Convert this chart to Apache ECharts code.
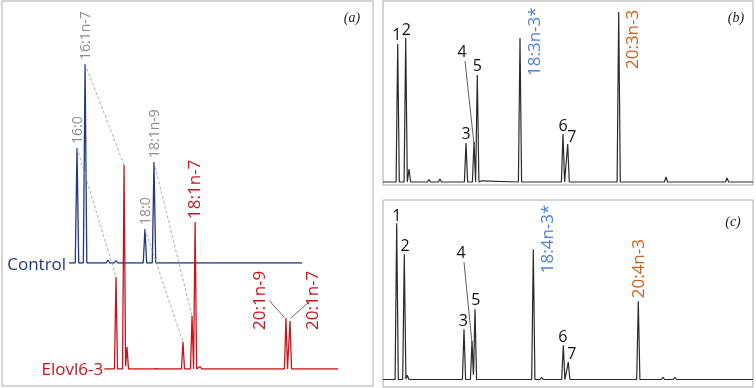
<!DOCTYPE html>
<html>
<head>
<meta charset="utf-8">
<script src="https://cdn.jsdelivr.net/npm/echarts@6/dist/echarts.min.js"></script>
<style>html,body{margin:0;padding:0;background:#fff}#c{width:756px;height:388px}</style>
</head>
<body>
<div id="c"></div>
<script>
// ---- Panel (a): peak retention times (min) and heights (relative units) ----
const controlRT     = [14.31, 14.73, 15.92, 16.34, 17.84, 18.31];
const controlHeight = [46.0, 79.6, 1.2, 1.0, 13.6, 40.4];
const controlRange  = [13.9, 26.0];
const elovlRT       = [14.31, 14.73, 14.88, 16.34, 16.49, 17.79, 18.26, 18.42, 18.68, 20.65, 22.0, 22.52, 23.14, 23.35];
const elovlHeight   = [36.8, 81.6, 8.8, 0.8, 0.8, 10.8, 21.2, 58.8, 1.0, 0.6, 0.6, 0.6, 20.4, 19.2];
const elovlRange    = [13.7, 25.85];
const controlLabels = ['16:0', '16:1n-7', '18:0', '18:1n-9'];
const controlLabelPeak = [0, 1, 4, 5];
const elovlLabels   = ['18:1n-7', '20:1n-9', '20:1n-7'];
const elovlLabelPeak = [7, 12, 13];
const linkFrom = [0, 1, 4, 5];   // control peak index
const linkTo   = [0, 1, 5, 6];   // Elovl6-3 peak index
const traceNames = ['Control', 'Elovl6-3'];

// ---- Panel (b) ----
const bRT     = [11.47, 12.27, 12.6, 14.6, 15.7, 18.3, 19.1, 19.43, 19.87, 23.7, 27.1, 28.0, 28.47, 30.37, 33.57, 38.3, 38.87, 44.4];
const bHeight = [91.5, 95.5, 8.6, 1.5, 2.0, 25.9, 26.5, 71.0, 0.8, 95.5, 1.2, 31.8, 25.2, 0.7, 112.7, 3.3, 1.3, 2.7];
const bRange  = [10, 47];
const bLabels = ['1', '2', '3', '4', '5', '6', '7', '18:3n-3*', '20:3n-3'];
const bLabelPeak = [0, 1, 5, 6, 7, 11, 12, 9, 14];

// ---- Panel (c) ----
const cRT     = [11.37, 12.13, 12.43, 14.37, 15.53, 18.1, 18.9, 19.2, 22.2, 25.03, 25.87, 27.03, 28.03, 28.53, 35.53, 38.0, 39.2];
const cHeight = [104.5, 83.8, 2.9, 1.1, 1.1, 33.6, 25.6, 47.0, 0.7, 87.1, 1.5, 1.0, 22.9, 11.6, 52.3, 1.5, 1.5];
const cRange  = [10, 47];
const cLabels = ['1', '2', '3', '4', '5', '6', '7', '18:4n-3*', '20:4n-3'];
const cLabelPeak = [0, 1, 5, 6, 7, 12, 13, 9, 14];

const panelTags = ['(a)', '(b)', '(c)'];

// ---- build peak shapes (triangular peaks summed on a baseline) ----
function buildTrace(rts, hs, hw, range) {
  const xs = [range[0], range[1]];
  rts.forEach(r => { xs.push(r - hw, r, r + hw); });
  const uniq = Array.from(new Set(xs.map(v => +v.toFixed(4)))).filter(v => v >= range[0] && v <= range[1]).sort((a, b) => a - b);
  return uniq.map(x => {
    let y = 0;
    rts.forEach((r, i) => { const d = Math.abs(x - r); if (d < hw) y += hs[i] * (1 - d / hw); });
    return [x, y];
  });
}

const NAVY = '#213a7e', RED = '#c8151d', GRAY = '#8c8c8c', BLUE = '#4f80d4', ORANGE = '#cd611c', BLACK = '#2a2a2a', FRAME = '#ababab';
const FONT = '"Open Sans", "Noto Sans", sans-serif';

const chart = echarts.init(document.getElementById('c'), null, { renderer: 'canvas' });
const hiddenAxis = (gi, min, max) => ({ gridIndex: gi, type: 'value', min, max, show: false, splitLine: { show: false } });

chart.setOption({
  animation: false,
  grid: [
    { left: 2, top: 1, width: 371, height: 385, show: true, borderColor: FRAME, borderWidth: 1, backgroundColor: 'transparent' },
    { left: 61.4, top: 13, width: 250.25, height: 250 },
    { left: 100.4, top: 119, width: 250.25, height: 250 },
    { left: 383, top: 1, width: 370, height: 184, show: true, borderColor: FRAME, borderWidth: 1, backgroundColor: 'transparent' },
    { left: 383, top: 200, width: 370, height: 187, show: true, borderColor: FRAME, borderWidth: 1, backgroundColor: 'transparent' }
  ],
  xAxis: [hiddenAxis(0, 0, 1), hiddenAxis(1, 13.5, 26.5), hiddenAxis(2, 13.5, 26.5), hiddenAxis(3, bRange[0], bRange[1]), hiddenAxis(4, cRange[0], cRange[1])],
  yAxis: [hiddenAxis(0, 0, 1), hiddenAxis(1, 0, 100), hiddenAxis(2, 0, 100), hiddenAxis(3, -2, 120), hiddenAxis(4, -5, 120)],
  series: [
    { type: 'line', xAxisIndex: 1, yAxisIndex: 1, data: buildTrace(controlRT, controlHeight, 0.09, controlRange), showSymbol: false, lineStyle: { color: NAVY, width: 1.3 }, z: 2 },
    { type: 'line', xAxisIndex: 2, yAxisIndex: 2, data: buildTrace(elovlRT, elovlHeight, 0.08, elovlRange), showSymbol: false, lineStyle: { color: RED, width: 1.3 }, z: 3 },
    { type: 'line', xAxisIndex: 3, yAxisIndex: 3, data: buildTrace(bRT, bHeight, 0.16, bRange), showSymbol: false, lineStyle: { color: BLACK, width: 1.2 } },
    { type: 'line', xAxisIndex: 4, yAxisIndex: 4, data: buildTrace(cRT, cHeight, 0.16, cRange), showSymbol: false, lineStyle: { color: BLACK, width: 1.2 } }
  ]
});

function px(ai, x, y) { return chart.convertToPixel({ xAxisIndex: ai, yAxisIndex: ai }, [x, y]); }

const g = [];
function vtext(p, dx, dy, text, color, size) {
  g.push({ type: 'text', x: p[0] + dx, y: p[1] + dy, rotation: Math.PI / 2, z: 10,
    style: { text, fill: color, font: size + 'px ' + FONT, align: 'left', verticalAlign: 'middle', textAlign: 'left', textVerticalAlign: 'middle' } });
}
function htext(p, dx, dy, text, color, size, align, font) {
  g.push({ type: 'text', x: p[0] + dx, y: p[1] + dy, z: 10,
    style: { text, fill: color, font: font || (size + 'px ' + FONT), align: align || 'center', verticalAlign: 'middle', textAlign: align || 'center', textVerticalAlign: 'middle' } });
}
function seg(p1, p2, color, width, dash) {
  g.push({ type: 'line', z: 9, shape: { x1: p1[0], y1: p1[1], x2: p2[0], y2: p2[1] },
    style: { stroke: color, lineWidth: width, lineDash: dash || null } });
}

// Panel (a)
const cApex = i => px(1, controlRT[i], controlHeight[i]);
const eApex = i => px(2, elovlRT[i], elovlHeight[i]);
linkFrom.forEach((f, k) => seg(cApex(f), eApex(linkTo[k]), '#9a9a9a', 0.8, [3, 2]));
controlLabels.forEach((t, k) => vtext(cApex(controlLabelPeak[k]), 1, -4, t, GRAY, 14));
vtext(eApex(elovlLabelPeak[0]), 0, -3, elovlLabels[0], RED, 17);
{
  const p9 = eApex(elovlLabelPeak[1]), p7 = eApex(elovlLabelPeak[2]);
  vtext(p9, -26, 12, elovlLabels[1], RED, 17);
  vtext(p7, 23.5, 9, elovlLabels[2], RED, 17);
  seg([p9[0] - 16.7, p9[1] - 17.3], [p9[0] - 1.5, p9[1] - 0.5], '#555', 0.9);
  seg([p7[0] + 19.3, p7[1] - 19.3], [p7[0] + 0.5, p7[1] - 2.5], '#555', 0.9);
}
htext(px(1, controlRange[0], 0), -3, 2, traceNames[0], NAVY, 17, 'right');
htext(px(2, elovlRange[0], 0), -1, 1, traceNames[1], RED, 17, 'right');

// Panels (b) and (c)
function numberedPanel(ai, rts, hs, labels, peaks, offs) {
  labels.forEach((t, k) => {
    const i = peaks[k];
    const p = px(ai, rts[i], hs[i]);
    const o = offs[k];
    if (k < 7) htext(p, o[0], o[1], t, '#111', 16);
    else vtext(p, o[0], o[1], t, k === 7 ? BLUE : ORANGE, 17);
    if (t === '4') seg([p[0] + o[0] + 3, p[1] + o[1] + 9], [p[0], p[1] + 2], '#333', 0.8);
  });
}
numberedPanel(3, bRT, bHeight, bLabels, bLabelPeak,
  [[-1, -9], [0.5, -8], [0, -8], [-12, -90], [0, -8], [0, -8], [4, -7], [15, 38], [14.6, 57]]);
numberedPanel(4, cRT, cHeight, cLabels, cLabelPeak,
  [[0, -7], [0.7, -7.5], [-0.7, -8], [-11, -88], [0.7, -8.3], [-0.6, -8.3], [3.4, -7.7], [15, 24], [1, -3]]);

// panel tags
const tagFont = 'italic 14px "Liberation Serif", "DejaVu Serif", serif';
htext([352, 18], 0, 0, panelTags[0], '#222', 14, 'center', tagFont);
htext([736, 18], 0, 0, panelTags[1], '#222', 14, 'center', tagFont);
htext([733, 222], 0, 0, panelTags[2], '#222', 14, 'center', tagFont);

chart.setOption({ graphic: g });
</script>
</body>
</html>
